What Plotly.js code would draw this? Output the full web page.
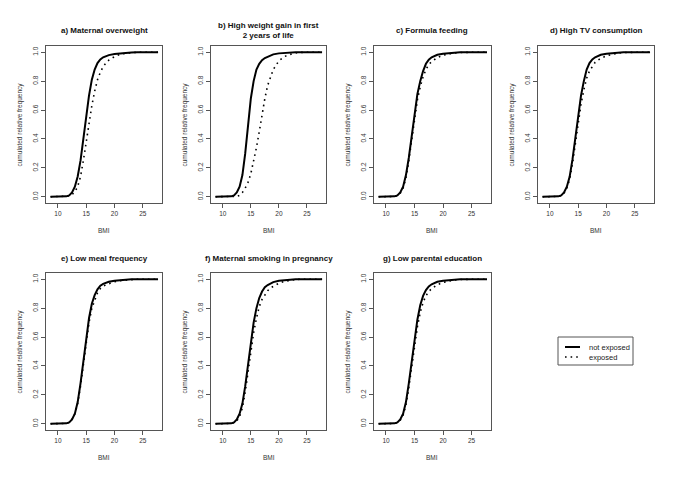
<!DOCTYPE html>
<html>
<head>
<meta charset="utf-8">
<script src="https://cdn.plot.ly/plotly-3.0.1.min.js"></script>
<style>html,body{margin:0;padding:0;background:#fff}#chart{width:685px;height:484px}</style>
</head>
<body>
<div id="chart"></div>
<script>
// ---- data ----
const bmi = [8.7,10,11,11.5,12,12.5,13,13.5,14,14.5,15,15.5,16,16.5,17,17.5,18,18.5,19,20,21,22,23,24,25,26,27.7];

const panelTitles = [
  "a) Maternal overweight",
  "b) High weight gain in first<br>2 years of life",
  "c) Formula feeding",
  "d) High TV consumption",
  "e) Low meal frequency",
  "f) Maternal smoking in pregnancy",
  "g) Low parental education"
];

const a_notExposed = [0,0,0,0.003,0.01,0.03,0.07,0.14,0.25,0.40,0.56,0.70,0.81,0.88,0.925,0.95,0.965,0.975,0.98,0.988,0.993,0.996,0.998,0.999,1,1,1];
const a_exposed    = [0,0,0,0,0.005,0.015,0.035,0.07,0.14,0.25,0.38,0.51,0.63,0.73,0.81,0.86,0.90,0.925,0.945,0.97,0.985,0.993,0.998,1,1,1,1];
const b_notExposed = [0,0,0,0.003,0.01,0.03,0.07,0.15,0.30,0.50,0.68,0.80,0.88,0.92,0.945,0.96,0.97,0.978,0.985,0.992,0.996,0.998,0.999,1,1,1,1];
const b_exposed    = [0,0,0,0,0,0.003,0.01,0.03,0.06,0.10,0.16,0.24,0.34,0.45,0.57,0.68,0.77,0.83,0.88,0.94,0.97,0.985,0.995,0.999,1,1,1];
const c_notExposed = [0,0,0,0.003,0.01,0.03,0.07,0.15,0.27,0.42,0.58,0.71,0.80,0.87,0.92,0.948,0.965,0.975,0.982,0.99,0.995,0.997,0.999,1,1,1,1];
const c_exposed    = [0,0,0,0.002,0.008,0.025,0.06,0.13,0.25,0.40,0.55,0.67,0.76,0.83,0.88,0.915,0.935,0.95,0.962,0.98,0.99,0.995,0.998,1,1,1,1];
const d_notExposed = [0,0,0,0.003,0.01,0.03,0.07,0.14,0.26,0.41,0.56,0.70,0.80,0.88,0.925,0.95,0.965,0.975,0.982,0.99,0.995,0.997,0.999,1,1,1,1];
const d_exposed    = [0,0,0,0.002,0.008,0.025,0.06,0.12,0.23,0.37,0.51,0.64,0.74,0.82,0.87,0.905,0.93,0.945,0.958,0.975,0.987,0.994,0.998,1,1,1,1];
const e_notExposed = [0,0,0,0.003,0.01,0.03,0.07,0.15,0.28,0.44,0.60,0.73,0.83,0.89,0.93,0.955,0.968,0.976,0.982,0.99,0.995,0.997,0.999,1,1,1,1];
const e_exposed    = [0,0,0,0.003,0.01,0.03,0.07,0.14,0.26,0.42,0.57,0.70,0.80,0.86,0.905,0.935,0.952,0.962,0.97,0.982,0.99,0.995,0.998,1,1,1,1];
const f_notExposed = [0,0,0,0.003,0.01,0.03,0.07,0.14,0.26,0.41,0.56,0.70,0.80,0.87,0.915,0.945,0.96,0.972,0.98,0.99,0.995,0.997,0.999,1,1,1,1];
const f_exposed    = [0,0,0,0.002,0.008,0.02,0.05,0.11,0.22,0.36,0.50,0.63,0.73,0.81,0.86,0.895,0.92,0.94,0.952,0.972,0.985,0.993,0.998,1,1,1,1];
const g_notExposed = [0,0,0,0.003,0.01,0.03,0.07,0.15,0.28,0.43,0.59,0.72,0.82,0.885,0.925,0.95,0.965,0.975,0.982,0.99,0.995,0.997,0.999,1,1,1,1];
const g_exposed    = [0,0,0,0.002,0.008,0.025,0.06,0.13,0.25,0.40,0.55,0.67,0.77,0.84,0.885,0.915,0.935,0.95,0.962,0.978,0.989,0.995,0.998,1,1,1,1];

const seriesNames = ["not exposed", "exposed"];
const xTicks = [10, 15, 20, 25];
const yTicks = [0, 0.2, 0.4, 0.6, 0.8, 1.0];
const xLabel = "BMI";
const yLabel = "cumulated relative frequency";

// ---- layout geometry (pixels) ----
const W = 685, H = 484;
const FONT = "Liberation Sans, Arial, Helvetica, sans-serif";
const colsPx = [[46,162],[211,326],[374,491],[538,654]];
const rowsPx = [[46,203],[273,430]];
const px2x = p => p / W;
const px2y = p => 1 - p / H;

const notExp = [a_notExposed,b_notExposed,c_notExposed,d_notExposed,e_notExposed,f_notExposed,g_notExposed];
const exp    = [a_exposed,b_exposed,c_exposed,d_exposed,e_exposed,f_exposed,g_exposed];

const solidStyle = {color: "#000", width: 2};
const dotStyle = {color: "#000", width: 1.6, dash: "1.6px,4px"};

const traces = [];
const layout = {
  width: W, height: H,
  margin: {l:0, r:0, t:0, b:0},
  paper_bgcolor: "#fff", plot_bgcolor: "#fff",
  font: {family: FONT, color: "#222", size: 6},
  showlegend: false,
  annotations: [],
  shapes: []
};

for (let i = 0; i < 7; i++) {
  const r = i < 4 ? 0 : 1;
  const c = i < 4 ? i : i - 4;
  const n = i + 1;
  const xa = n === 1 ? "x" : "x" + n;
  const ya = n === 1 ? "y" : "y" + n;
  traces.push({
    x: bmi, y: notExp[i], xaxis: xa, yaxis: ya, type: "scatter", mode: "lines",
    name: seriesNames[0], line: solidStyle, hoverinfo: "skip"
  });
  traces.push({
    x: bmi, y: exp[i], xaxis: xa, yaxis: ya, type: "scatter", mode: "lines",
    name: seriesNames[1], line: dotStyle, hoverinfo: "skip"
  });
  const axCommon = {
    showline: true, mirror: true, linecolor: "#555", linewidth: 1,
    ticks: "outside", ticklen: 4, tickcolor: "#555", tickwidth: 1,
    showgrid: false, zeroline: false, fixedrange: true,
    tickfont: {family: FONT, size: 6.5, color: "#333"}
  };
  layout["xaxis" + (n === 1 ? "" : n)] = Object.assign({}, axCommon, {
    domain: [px2x(colsPx[c][0]), px2x(colsPx[c][1])],
    anchor: ya, range: [7.9, 28.4],
    tickmode: "array", tickvals: xTicks, ticktext: xTicks.map(String)
  });
  layout["yaxis" + (n === 1 ? "" : n)] = Object.assign({}, axCommon, {
    domain: [px2y(rowsPx[r][1]), px2y(rowsPx[r][0])],
    anchor: xa, range: [-0.043, 1.043],
    tickmode: "array", tickvals: yTicks, ticktext: yTicks.map(v => v.toFixed(1)),
    tickangle: -90
  });
  const cx = (colsPx[c][0] + colsPx[c][1]) / 2;
  const titleY = r === 0 ? (i === 1 ? 30 : 31) : 258;
  layout.annotations.push({
    xref: "paper", yref: "paper", x: px2x(cx), y: px2y(titleY),
    xanchor: "center", yanchor: "middle", showarrow: false,
    text: "<b>" + panelTitles[i] + "</b>",
    font: {family: FONT, size: 8, color: "#111"}
  });
  layout.annotations.push({
    xref: "paper", yref: "paper", x: px2x(cx), y: px2y(rowsPx[r][1] + 27),
    xanchor: "center", yanchor: "middle", showarrow: false,
    text: xLabel, font: {family: FONT, size: 6.5, color: "#333"}
  });
  layout.annotations.push({
    xref: "paper", yref: "paper", x: px2x(colsPx[c][0] - 27),
    y: px2y((rowsPx[r][0] + rowsPx[r][1]) / 2),
    xanchor: "center", yanchor: "middle", showarrow: false, textangle: -90,
    text: yLabel, font: {family: FONT, size: 6.5, color: "#333"}
  });
}

// ---- legend (compact, R-style box) ----
const leg = {x0: 558, x1: 633, y0: 337, y1: 365, sx0: 565, sx1: 580, tx: 587, rows: [347, 357]};
layout.shapes.push({
  type: "rect", xref: "paper", yref: "paper",
  x0: px2x(leg.x0), x1: px2x(leg.x1), y0: px2y(leg.y1), y1: px2y(leg.y0),
  line: {color: "#555", width: 1}, fillcolor: "#fff"
});
[solidStyle, dotStyle].forEach((st, k) => {
  layout.shapes.push({
    type: "line", xref: "paper", yref: "paper",
    x0: px2x(leg.sx0), x1: px2x(leg.sx1), y0: px2y(leg.rows[k]), y1: px2y(leg.rows[k]),
    line: st
  });
  layout.annotations.push({
    xref: "paper", yref: "paper", x: px2x(leg.tx), y: px2y(leg.rows[k]),
    xanchor: "left", yanchor: "middle", showarrow: false,
    text: seriesNames[k], font: {family: FONT, size: 7.5, color: "#222"}
  });
});

Plotly.newPlot("chart", traces, layout, {displayModeBar: false, staticPlot: true});
</script>
</body>
</html>
